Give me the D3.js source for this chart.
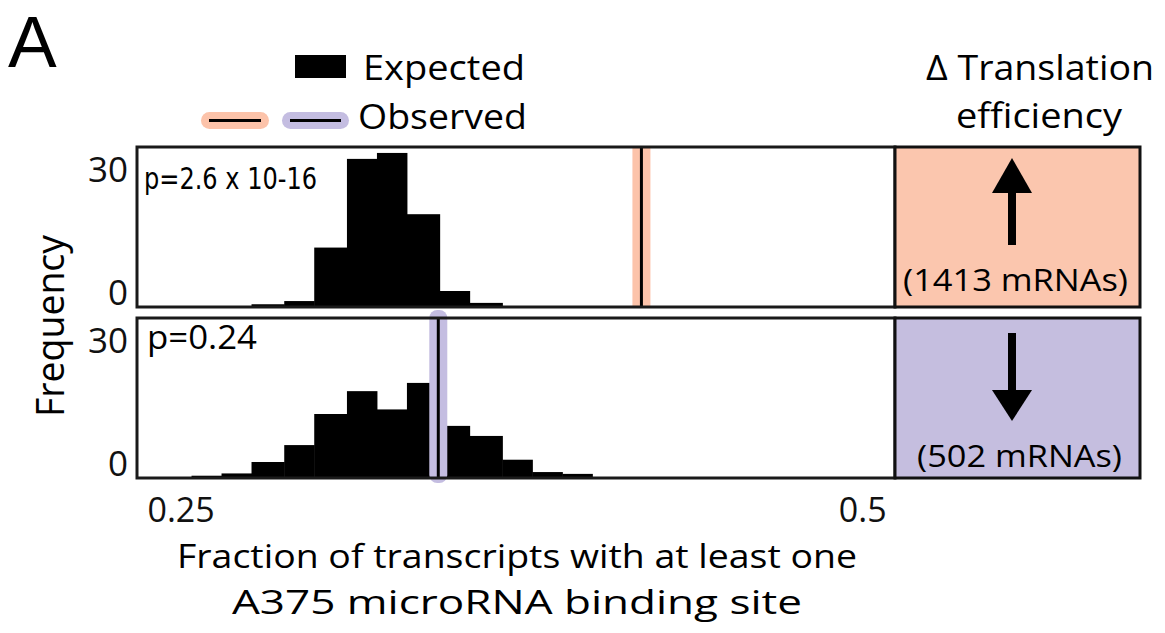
<!DOCTYPE html>
<html>
<head>
<meta charset="utf-8">
<script src="https://cdnjs.cloudflare.com/ajax/libs/d3/7.8.5/d3.min.js"></script>
<style>
  body { margin: 0; background: #fff; }
  svg { display: block; font-family: "Open Sans", sans-serif; }
</style>
</head>
<body>
<div id="chart"></div>
<script>
// bin edges shared by both histograms (fraction of transcripts)
const binEdges = [0.254, 0.265, 0.276, 0.288, 0.299, 0.311, 0.322, 0.333, 0.345, 0.356, 0.368, 0.379, 0.390, 0.401];
// expected (permutation) frequencies per bin
const upExpected = [0, 0, 0.6, 1.3, 13, 32.4, 33.7, 20.3, 3.5, 0.9, 0, 0, 0];
const downExpected = [0.5, 1, 3.5, 7.2, 14, 19, 15, 20.8, 11.4, 9.2, 4, 1.3, 0.9];
// observed fractions
const upObserved = 0.419;
const downObserved = 0.3445;
const pValues = ["p=2.6 x 10-16", "p=0.24"];
const groupLabels = ["(1413 mRNAs)", "(502 mRNAs)"];
const xTicks = [0.25, 0.5];
const yTicks = [0, 30];

const W = 1165, H = 633;
const svg = d3.select("#chart").append("svg").attr("width", W).attr("height", H);

const left = 137, right = 895, boxRight = 1140;
const panels = [
  {top: 147, bottom: 307, counts: upExpected, obs: upObserved, p: pValues[0], label: groupLabels[0],
   band: "#fcc3aa", fill: "#fbc6ae", up: true},
  {top: 318, bottom: 478, counts: downExpected, obs: downObserved, p: pValues[1], label: groupLabels[1],
   band: "#c4bde1", fill: "#c5bedf", up: false}
];

const x = d3.scaleLinear().domain([0.234, 0.512]).range([left, right]);

// squeeze text to the width it has in the figure
function fit(sel, w) {
  return sel.attr("textLength", w).attr("lengthAdjust", "spacingAndGlyphs");
}

panels.forEach((pn, i) => {
  const y = d3.scaleLinear().domain([0, 35]).range([pn.bottom, pn.top]);
  const g = svg.append("g");

  const bins = pn.counts.map((c, j) => ({x0: binEdges[j], x1: binEdges[j + 1], c: c})).filter(d => d.c > 0);
  g.selectAll(".bar")
    .data(bins)
    .enter().append("rect")
    .attr("class", "bar")
    .attr("x", d => x(d.x0))
    .attr("width", d => x(d.x1) - x(d.x0) + 0.5)
    .attr("y", d => y(d.c))
    .attr("height", d => y(0) - y(d.c))
    .attr("fill", "#000");

  // observed value: coloured halo + black line
  g.append("rect")
    .attr("x", x(pn.obs) - 9)
    .attr("width", 18)
    .attr("y", pn.top - (i === 1 ? 8 : 0))
    .attr("height", pn.bottom - pn.top + (i === 1 ? 13 : 0))
    .attr("rx", i === 1 ? 8 : 0)
    .attr("fill", pn.band);
  g.append("line")
    .attr("x1", x(pn.obs)).attr("x2", x(pn.obs))
    .attr("y1", pn.top).attr("y2", pn.bottom)
    .attr("stroke", "#000").attr("stroke-width", 3);

  g.append("rect")
    .attr("x", left).attr("y", pn.top)
    .attr("width", right - left).attr("height", pn.bottom - pn.top)
    .attr("fill", "none").attr("stroke", "#1a1a1a").attr("stroke-width", 3);

  // y axis, only 0 and 30
  const ax = g.append("g")
    .attr("transform", "translate(" + left + ",0)")
    .call(d3.axisLeft(y).tickValues(yTicks).tickSize(0).tickPadding(9));
  ax.select(".domain").remove();
  ax.selectAll(".tick text")
    .attr("font-size", 35).attr("font-family", "Open Sans").attr("fill", "#111")
    .attr("dy", d => d === 0 ? "-0.06em" : "0.34em");

  if (i === 0) {
    fit(g.append("text").attr("x", 144).attr("y", 189)
      .attr("font-family", "DejaVu Sans Condensed, DejaVu Sans").attr("font-size", 31)
      .text(pn.p), 173);
  } else {
    fit(g.append("text").attr("x", 147).attr("y", 349)
      .attr("font-size", 32).text(pn.p), 110);
  }

  // translation-efficiency box
  g.append("rect")
    .attr("x", right).attr("y", pn.top)
    .attr("width", boxRight - right).attr("height", pn.bottom - pn.top)
    .attr("fill", pn.fill).attr("stroke", "#111").attr("stroke-width", 3);

  const ax0 = 1012;
  if (pn.up) {
    g.append("rect").attr("x", ax0 - 4).attr("y", 188).attr("width", 8).attr("height", 57).attr("fill", "#000");
    g.append("path").attr("d", `M${ax0},158 L${ax0 + 20},193 L${ax0 - 20},193 Z`).attr("fill", "#000");
    fit(g.append("text").attr("x", 903).attr("y", 291).attr("font-size", 31).text(pn.label), 225);
  } else {
    g.append("rect").attr("x", ax0 - 4).attr("y", 333).attr("width", 8).attr("height", 60).attr("fill", "#000");
    g.append("path").attr("d", `M${ax0 - 20},390 L${ax0 + 20},390 L${ax0},421 Z`).attr("fill", "#000");
    fit(g.append("text").attr("x", 917).attr("y", 467).attr("font-size", 31).text(pn.label), 205);
  }
});

// x axis under the lower panel
const xAxis = svg.append("g")
  .attr("transform", "translate(0,478)")
  .call(d3.axisBottom(x).tickValues(xTicks).tickSize(0).tickPadding(20).tickFormat(d3.format("")));
xAxis.select(".domain").remove();
xAxis.selectAll(".tick text")
  .attr("font-size", 34).attr("font-family", "Open Sans").attr("fill", "#111");

// two-line axis title
const mid = (left + right) / 2 + 1;
fit(svg.append("text").attr("x", mid).attr("y", 568).attr("text-anchor", "middle")
  .attr("font-size", 33).text("Fraction of transcripts with at least one"), 680);
fit(svg.append("text").attr("x", mid).attr("y", 614).attr("text-anchor", "middle")
  .attr("font-size", 33).text("A375 microRNA binding site"), 570);

fit(svg.append("text")
  .attr("transform", "translate(64,326) rotate(-90)")
  .attr("text-anchor", "middle").attr("font-size", 38)
  .text("Frequency"), 182);

// panel letter
svg.append("text").attr("x", 8).attr("y", 67)
  .attr("font-family", "Liberation Sans, Arial").attr("font-size", 73).text("A");

// legend
svg.append("rect").attr("x", 295).attr("y", 55).attr("width", 51).attr("height", 23).attr("fill", "#000");
fit(svg.append("text").attr("x", 363).attr("y", 80).attr("font-size", 35).text("Expected"), 162);
[{x0: 201, x1: 269, c: "#fcc3aa"}, {x0: 282, x1: 349, c: "#c4bde1"}].forEach(s => {
  svg.append("rect").attr("x", s.x0).attr("y", 112).attr("width", s.x1 - s.x0).attr("height", 17)
    .attr("rx", 8.5).attr("fill", s.c);
  svg.append("line").attr("x1", s.x0 + 8).attr("x2", s.x1 - 8).attr("y1", 120.5).attr("y2", 120.5)
    .attr("stroke", "#000").attr("stroke-width", 3);
});
fit(svg.append("text").attr("x", 358).attr("y", 129).attr("font-size", 35).text("Observed"), 169);

// right header
fit(svg.append("text").attr("x", 926).attr("y", 80).attr("font-size", 35).text("\u0394 Translation"), 228);
fit(svg.append("text").attr("x", 956).attr("y", 128).attr("font-size", 35).text("efficiency"), 166);
</script>
</body>
</html>
